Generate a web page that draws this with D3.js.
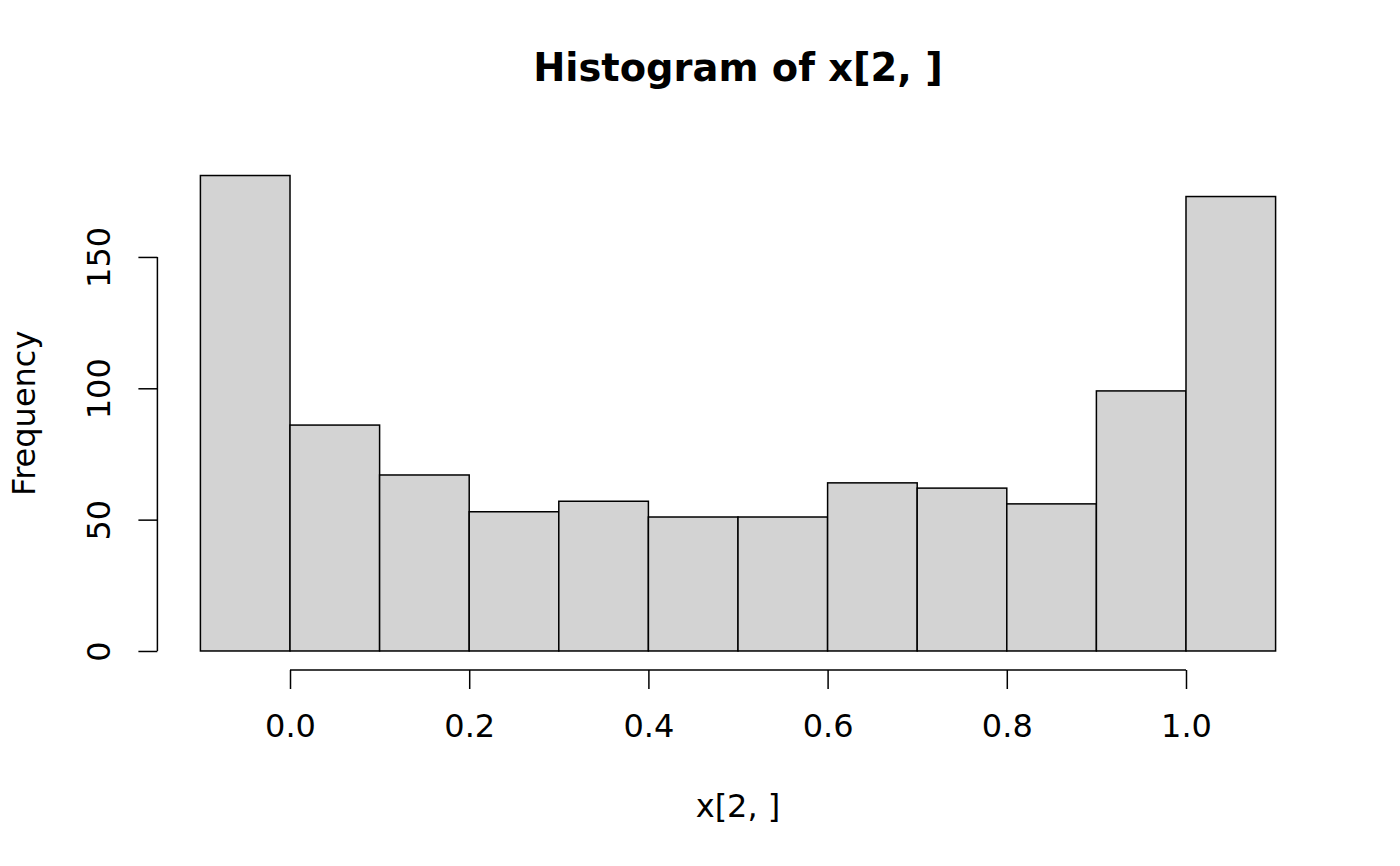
<!DOCTYPE html>
<html>
<head>
<meta charset="utf-8">
<script src="https://d3js.org/d3.v7.min.js"></script>
<style>
  body { margin: 0; background: #fff; }
  text { font-family: "DejaVu Sans", sans-serif; fill: #000; }
</style>
</head>
<body>
<div id="chart"></div>
<script>
// Histogram data: bin edges and counts
var breaks = [-0.1, 0.0, 0.1, 0.2, 0.3, 0.4, 0.5, 0.6, 0.7, 0.8, 0.9, 1.0, 1.1];
var counts = [181, 86, 67, 53, 57, 51, 51, 64, 62, 56, 99, 173];
var xTicks = [0.0, 0.2, 0.4, 0.6, 0.8, 1.0];
var yTicks = [0, 50, 100, 150];

var bins = counts.map(function (c, i) {
    return { x0: breaks[i], x1: breaks[i + 1], count: c };
});

var W = 1400, H = 866;
var plot = { left: 157.4, right: 1318.6, top: 156.5, bottom: 670 };

var svg = d3.select("#chart")
    .append("svg")
    .attr("width", W)
    .attr("height", H);

// R style: extend the data range by 4% on each side
var xlim = [breaks[0], breaks[breaks.length - 1]];
var xpad = (xlim[1] - xlim[0]) * 0.04;
var ylim = [0, d3.max(counts)];
var ypad = (ylim[1] - ylim[0]) * 0.04;

var x = d3.scaleLinear()
    .domain([xlim[0] - xpad, xlim[1] + xpad])
    .range([plot.left, plot.right]);

var y = d3.scaleLinear()
    .domain([ylim[0] - ypad, ylim[1] + ypad])
    .range([plot.bottom, plot.top]);

// Bars
svg.append("g")
    .selectAll("rect")
    .data(bins)
    .enter()
    .append("rect")
    .attr("x", function (d) { return x(d.x0); })
    .attr("y", function (d) { return y(d.count); })
    .attr("width", function (d) { return x(d.x1) - x(d.x0); })
    .attr("height", function (d) { return y(0) - y(d.count); })
    .style("fill", "#d3d3d3")
    .style("stroke", "#000")
    .style("stroke-width", 1.5);

// X axis
var xAxis = svg.append("g")
    .attr("transform", "translate(0," + plot.bottom + ")")
    .call(d3.axisBottom(x)
        .tickValues(xTicks)
        .tickSize(19)
        .tickPadding(0)
        .tickFormat(d3.format(".1f")));
xAxis.select(".domain").remove();
xAxis.append("line")
    .attr("x1", x(xTicks[0]))
    .attr("x2", x(xTicks[xTicks.length - 1]))
    .attr("stroke", "#000")
    .attr("stroke-width", 1.5);
xAxis.selectAll(".tick line").attr("stroke-width", 1.5);
xAxis.selectAll(".tick text")
    .attr("y", 67)
    .attr("dy", 0)
    .style("font-size", "32px")
    .style("font-family", "DejaVu Sans");

// Y axis
var yAxis = svg.append("g")
    .attr("transform", "translate(" + plot.left + ",0)")
    .call(d3.axisLeft(y)
        .tickValues(yTicks)
        .tickSize(19));
yAxis.select(".domain").remove();
yAxis.append("line")
    .attr("y1", y(yTicks[0]))
    .attr("y2", y(yTicks[yTicks.length - 1]))
    .attr("stroke", "#000")
    .attr("stroke-width", 1.5);
yAxis.selectAll(".tick line").attr("stroke-width", 1.5);
yAxis.selectAll(".tick text")
    .attr("x", 0)
    .attr("dy", 0)
    .attr("text-anchor", "middle")
    .attr("transform", "translate(-47,0) rotate(-90)")
    .style("font-size", "32px")
    .style("font-family", "DejaVu Sans");

// Title
svg.append("text")
    .attr("x", (plot.left + plot.right) / 2)
    .attr("y", 81)
    .attr("text-anchor", "middle")
    .style("font-size", "38.4px")
    .style("font-weight", "bold")
    .text("Histogram of x[2, ]");

// Axis labels
svg.append("text")
    .attr("x", (plot.left + plot.right) / 2)
    .attr("y", 817)
    .attr("text-anchor", "middle")
    .style("font-size", "32px")
    .text("x[2, ]");

svg.append("text")
    .attr("transform", "translate(35," + ((plot.top + plot.bottom) / 2) + ") rotate(-90)")
    .attr("text-anchor", "middle")
    .style("font-size", "32px")
    .text("Frequency");
</script>
</body>
</html>
